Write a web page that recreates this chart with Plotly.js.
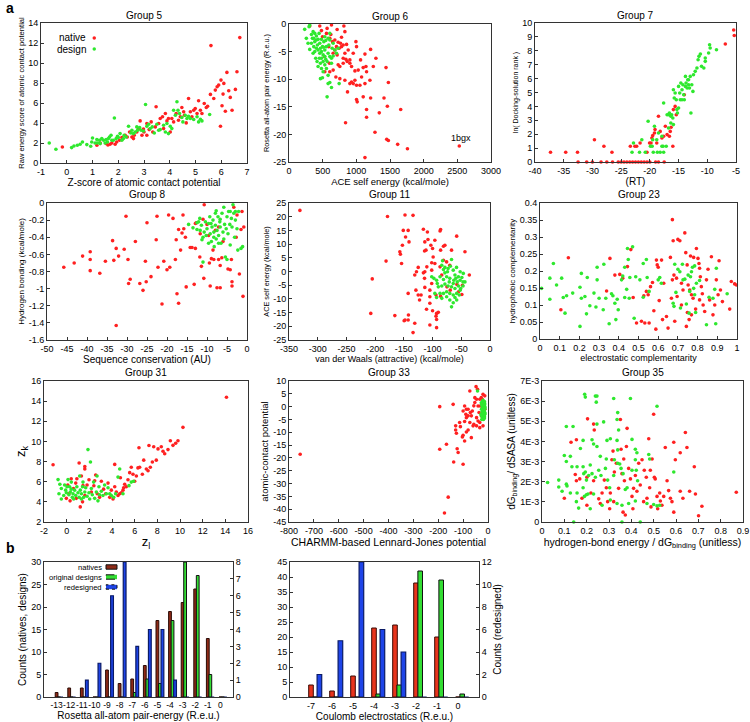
<!DOCTYPE html>
<html><head><meta charset="utf-8">
<script src="https://cdn.plot.ly/plotly-3.0.1.min.js"></script>
<style>body{margin:0;background:#fff}#chart{width:750px;height:722px}</style>
</head><body><div id="chart"></div>
<script>
// ---------------- DATA ----------------
const g5Native = [[-0.17,1.6],[1.17,1.77],[1.3,2.0],[1.53,1.94],[1.68,1.87],[1.88,1.87],[1.94,2.1],[2.05,2.27],[2.14,2.54],[2.27,2.78],[2.44,3.1],[2.53,2.6],[2.62,2.78],[2.72,3.1],[2.79,3.44],[2.85,4.21],[2.92,2.78],[3.0,3.1],[3.11,2.78],[3.2,3.34],[3.28,4.11],[3.34,3.1],[3.44,3.61],[3.47,5.62],[3.57,3.95],[3.63,4.45],[3.72,4.62],[3.76,3.44],[3.83,4.95],[3.89,4.21],[3.95,4.45],[4.02,3.1],[4.08,4.45],[4.15,4.11],[4.25,4.95],[4.34,4.28],[4.41,4.62],[4.47,5.55],[4.57,4.78],[4.64,4.01],[4.73,6.45],[4.8,5.12],[4.86,4.62],[4.93,5.28],[4.99,5.45],[5.06,4.95],[5.12,6.22],[5.19,5.28],[5.25,4.95],[5.34,5.95],[5.42,5.55],[5.47,5.68],[5.58,6.86],[5.6,11.74],[5.71,6.45],[5.84,7.63],[5.9,7.79],[5.97,3.68],[5.99,8.29],[6.03,5.72],[6.07,6.89],[6.16,5.18],[6.22,9.06],[6.29,7.22],[6.35,6.56],[6.42,5.28],[6.55,7.36],[6.61,9.13],[6.72,12.54],[6.1,7.96],[5.77,7.29],[4.54,5.12],[3.11,3.95],[2.59,2.44],[1.6,1.8],[1.75,2.0],[2.35,2.6],[2.98,3.4]];
const g5Design = [[-0.68,2.0],[-0.42,1.37],[0.19,1.54],[0.28,1.7],[0.41,1.77],[0.52,1.87],[0.61,2.1],[0.93,1.67],[0.97,2.1],[1.0,2.5],[1.1,2.0],[1.19,2.0],[1.27,2.27],[1.36,2.44],[1.43,2.27],[1.53,2.34],[1.58,2.1],[1.66,2.6],[1.72,2.78],[1.81,2.27],[1.85,4.5],[1.92,2.44],[1.97,2.67],[2.07,2.94],[2.14,2.27],[2.23,2.78],[2.31,2.6],[2.4,3.68],[2.49,3.0],[2.59,2.94],[2.66,3.1],[2.75,3.28],[2.83,3.55],[2.89,3.28],[2.98,3.2],[3.06,5.85],[3.11,3.68],[3.24,3.44],[3.32,3.61],[3.4,3.0],[3.5,3.88],[3.63,3.34],[3.76,3.78],[3.89,3.95],[3.95,2.94],[4.02,3.68],[4.08,3.44],[4.28,6.12],[4.32,5.28],[4.38,4.95],[4.47,4.55],[4.6,4.78],[4.67,4.45],[4.8,4.45],[4.93,4.35],[5.06,4.62],[5.19,4.38],[5.25,4.21],[5.55,4.85],[0.78,1.84],[1.17,2.34],[1.3,1.94],[1.49,2.0],[1.62,2.44],[1.75,2.27],[2.0,2.54],[2.2,2.44],[2.53,3.28],[2.72,3.61],[3.18,3.88],[3.57,3.28],[3.83,3.1],[4.15,5.28],[4.22,4.78],[4.51,4.11],[4.73,4.68],[5.12,4.11]];

const g6Native = [[308,-0.36],[457,-0.36],[631,-0.18],[815,-0.36],[830,-1.39],[482,-1.2],[556,-1.7],[621,-1.9],[497,-2.3],[606,-2.6],[681,-2.9],[730,-3.3],[765,-3.5],[780,-4.1],[805,-3.8],[855,-3.7],[745,-4.4],[705,-4.1],[681,-4.7],[656,-5.3],[715,-5.6],[805,-6.2],[845,-6.4],[864,-6.8],[904,-7.1],[805,-7.1],[755,-7.7],[656,-8.35],[606,-8.65],[532,-8.65],[696,-9.6],[755,-9.9],[830,-10.2],[869,-12.3],[904,-10.8],[929,-10.5],[954,-10.8],[979,-10.2],[1003,-11.1],[994,-3.2],[1003,-4.1],[954,-5.3],[929,-7.7],[979,-8.5],[1028,-8.35],[1063,-6.5],[1128,-5.45],[1143,-7.7],[1212,-4.6],[1152,-8.65],[1202,-10.2],[1291,-6.2],[1252,-7.7],[1102,-7.9],[1078,-9.6],[1003,-13.7],[1013,-14.1],[1102,-13.2],[1212,-13.4],[1152,-15.5],[1152,-16.9],[1341,-16.1],[1411,-13.4],[1441,-7.9],[1461,-14.9],[1476,-10.6],[1277,-19.6],[840,-17.9],[1451,-20.9],[1476,-21.1],[1614,-21.8],[1759,-22.6],[1659,-15.5],[1128,-24.2],[2529,-22.1],[566,-0.8],[715,-1.0],[780,-2.4],[879,-4.7],[904,-6.5],[830,-5.3],[646,-3.2],[591,-4.1],[527,-5.9],[601,-7.1],[730,-7.4],[1053,-11.1],[1128,-10.8]];
const g6Design = [[233,-0.97],[298,-0.48],[308,-0.18],[358,-1.39],[383,-1.7],[407,-2.18],[432,-2.78],[348,-2.6],[383,-3.2],[457,-3.5],[482,-2.78],[497,-4.1],[517,-3.2],[333,-3.5],[368,-4.1],[407,-4.4],[432,-4.7],[457,-5.3],[482,-5.0],[507,-5.6],[532,-4.7],[556,-4.1],[581,-5.3],[606,-5.9],[546,-6.4],[507,-6.8],[467,-7.1],[432,-7.7],[482,-8.05],[532,-7.4],[566,-6.8],[631,-6.2],[681,-4.7],[730,-4.4],[656,-3.5],[606,-2.9],[467,-9.9],[497,-9.75],[581,-9.3],[581,-10.8],[631,-11.5],[606,-10.6],[745,-10.8],[566,-13.2],[397,-6.2],[358,-5.3],[308,-4.6],[283,-3.5],[258,-2.6],[407,-2.9],[447,-1.7],[532,-2.3],[581,-2.6],[606,-1.7],[383,-5.0],[532,-5.9],[482,-6.2],[452,-6.2],[556,-8.05],[507,-8.65],[656,-5.8],[631,-7.1],[417,-6.8],[333,-1.9],[368,-2.6],[422,-3.8],[467,-4.4],[517,-4.2],[546,-3.0],[591,-3.8],[641,-4.4],[705,-5.3]];

const g7Native = [[-37.3,0.7],[-34.65,0.7],[-32.6,0.7],[-29.65,1.6],[-28.0,1.13],[-26.6,0.7],[-23.4,1.13],[-22.6,1.13],[-22.3,1.13],[-21.7,1.37],[-20.5,0.7],[-20.05,1.37],[-19.8,1.37],[-19.65,1.73],[-19.5,1.9],[-19.2,2.09],[-19.1,2.33],[-18.8,1.37],[-18.5,3.29],[-18.2,2.2],[-17.9,1.73],[-17.6,1.85],[-17.3,2.57],[-17.0,1.97],[-16.6,1.85],[-16.45,2.2],[-16.3,2.5],[-16.0,1.13],[-15.9,3.77],[-15.6,4.0],[-15.4,3.4],[-14.0,4.84],[-6.86,8.49],[-5.4,9.5],[-5.3,9.1],[-32.5,0],[-31,0],[-30,0],[-28.5,0],[-27.5,0],[-26.5,0],[-25.5,0],[-25,0],[-24.5,0],[-24,0],[-23.5,0],[-23,0],[-22.5,0],[-22,0],[-21.5,0],[-21,0],[-20.5,0],[-20,0],[-19,0],[-18.5,0],[-17.5,0]];
const g7Design = [[-23.1,0.7],[-22.85,1.37],[-21.8,0.7],[-21.4,1.6],[-20.8,0.7],[-19.9,1.13],[-19.5,1.6],[-19.2,2.57],[-18.8,1.6],[-18.7,0.7],[-18.5,2.09],[-18.2,0.7],[-17.9,1.13],[-17.7,1.13],[-17.6,4.24],[-17.15,1.13],[-17.0,3.4],[-16.75,3.4],[-16.6,3.53],[-16.35,2.81],[-16.2,3.4],[-16.0,3.17],[-15.9,5.2],[-15.75,4.6],[-15.6,4.96],[-15.4,4.48],[-15.3,3.77],[-15.2,3.53],[-15.0,5.44],[-14.8,4.96],[-14.7,4.48],[-14.6,5.68],[-14.4,5.2],[-14.25,5.56],[-14.1,4.84],[-14.0,4.48],[-13.8,5.44],[-13.7,5.68],[-13.5,5.32],[-13.4,5.92],[-13.25,5.56],[-13.1,5.32],[-12.97,6.16],[-12.85,3.53],[-12.7,5.56],[-12.5,5.08],[-12.4,6.28],[-12.1,6.52],[-11.8,6.76],[-11.6,7.36],[-11.45,7.6],[-11.2,7.77],[-11.0,6.88],[-10.6,6.76],[-9.77,7.84],[-9.6,8.44],[-9.5,8.2],[-10.35,7.48],[-8.4,8.08],[-10.35,7.24],[-14.4,4.48],[-15.0,3.89],[-16.35,3.29],[-13.8,6.16],[-13.25,5.92],[-15.9,2.69],[-16.75,2.45],[-17.9,1.85],[-19.6,1.13],[-20.3,2.93],[-19.4,0.7],[-17.6,0.7]];

const g8Native = [[-45.8,-0.75],[-43.2,-0.70],[-41.1,-0.62],[-39.2,-0.57],[-39.2,-0.66],[-39.2,-0.79],[-36.8,-0.82],[-35.4,-0.68],[-33.6,-0.44],[-33.3,-0.67],[-32.7,-0.53],[-32.7,-1.43],[-32.1,-0.62],[-30.7,-0.54],[-30.25,-0.155],[-29.75,-0.66],[-29.6,-0.94],[-29.2,-0.89],[-27.9,-0.45],[-26.8,-0.94],[-26.0,-1.02],[-25.4,-0.68],[-25.2,-0.92],[-25.0,-0.23],[-24.0,-0.86],[-22.7,-0.43],[-22.5,-0.155],[-22.25,-0.75],[-21.25,-1.18],[-20.8,-0.68],[-20.0,-0.78],[-19.6,-0.14],[-19.3,-0.75],[-18.5,-0.18],[-17.9,-0.66],[-17.7,-0.43],[-17.5,-1.06],[-17.1,-0.31],[-17.1,-1.17],[-16.6,-0.55],[-16.25,-0.35],[-16.0,-0.14],[-15.8,-0.30],[-15.4,-0.40],[-15.2,-0.98],[-14.2,-0.52],[-13.75,-0.52],[-13.2,-0.95],[-12.9,-0.53],[-12.7,-0.23],[-11.8,-0.63],[-11.4,-0.74],[-10.8,-0.88],[-10.7,-0.02],[-10.0,-0.25],[-9.6,-0.38],[-9.4,-0.70],[-9.2,-0.97],[-8.9,-0.65],[-8.5,-0.55],[-8.3,-0.66],[-7.5,-0.99],[-7.1,-0.66],[-6.7,-0.73],[-6.7,-0.99],[-6.3,-0.64],[-6.0,-0.45],[-4.75,-0.77],[-4.2,-0.78],[-3.9,-0.66],[-3.75,-0.92],[-3.75,-0.97],[-3.3,-0.05],[-2.5,-0.14],[-1.9,-0.83],[-1.25,-0.10],[-1.0,-1.09],[-0.8,-0.28],[-1.5,-0.31],[-2.7,-0.40],[-7.1,-0.28],[-7.9,-0.32],[-11.7,-0.36],[-12.9,-0.24],[-11.0,-0.19]];
const g8Design = [[-14.6,-0.25],[-13.5,-0.29],[-12.5,-0.31],[-11.8,-0.18],[-11.4,-0.26],[-11.25,-0.43],[-11.0,-0.40],[-11.0,-0.69],[-10.7,-0.34],[-10.4,-0.22],[-10.2,-0.38],[-10.0,-0.30],[-9.6,-0.24],[-9.6,-0.47],[-9.3,-0.16],[-9.2,-0.36],[-8.9,-0.45],[-8.75,-0.28],[-8.5,-0.20],[-8.3,-0.34],[-8.2,-0.51],[-7.9,-0.12],[-7.9,-0.26],[-7.7,-0.42],[-7.5,-0.32],[-7.25,-0.16],[-7.1,-0.38],[-6.8,-0.22],[-6.7,-0.28],[-6.5,-0.47],[-6.25,-0.12],[-6.0,-0.34],[-5.8,-0.05],[-5.8,-0.42],[-5.6,-0.25],[-5.4,-0.63],[-5.2,-0.30],[-5.0,-0.16],[-4.75,-0.36],[-4.6,-0.10],[-4.3,-0.25],[-4.2,-0.49],[-3.9,-0.18],[-3.75,-0.28],[-3.5,-0.02],[-3.3,-0.12],[-3.1,-0.40],[-2.9,-0.20],[-2.5,-0.30],[-2.3,-0.55],[-2.1,-0.10],[-1.5,-0.53],[-1.1,-0.51],[-5.0,-0.66],[-12.5,-0.23],[-11.7,-0.32],[-9.0,-0.24],[-7.7,-0.09],[-6.7,-0.19],[-4.2,-0.10],[-2.9,-0.10],[-12.1,-0.22],[-8.3,-0.40],[-7.1,-0.47]];

const g11Native = [[-331,22.3],[-178.5,20.1],[-148,20.6],[-134,20.5],[-142.5,15.0],[-151,15.0],[-147,12.6],[-141,10.8],[-152.5,9.6],[-157,7.2],[-156,6.3],[-154,2.9],[-181,3.8],[-205,-2.7],[-116,15.4],[-109,14.4],[-108,11.7],[-113.5,10.8],[-111.5,7.8],[-114,7.5],[-103,9.6],[-100,8.4],[-96,11.4],[-87,14.8],[-86,15.3],[-81,9.2],[-78.5,9.6],[-86,7.8],[-99,5.3],[-101.5,3.2],[-81,4.1],[-75.5,3.5],[-70,2.3],[-67,7.8],[-58,12.9],[-43.6,7.2],[-36,-1.3],[-48,-5.0],[-49,-8.4],[-54.8,-7.4],[-57.6,-4.7],[-69.3,-6.8],[-75,-5.6],[-84,-1.3],[-87,1.7],[-96,2.9],[-101.5,0.5],[-110,1.7],[-113.5,-0.1],[-116,-0.5],[-125,1.5],[-128,-0.1],[-131,-1.3],[-114,-2.5],[-113.5,-5.8],[-101.5,-4.4],[-94,-8.6],[-86,-9.0],[-104.7,-6.8],[-104.7,-9.2],[-120,-8.6],[-122.7,-10.4],[-125,-8.6],[-129,-6.8],[-142.5,-8.0],[-104.7,-11.6],[-110.5,-13.8],[-100,-14.3],[-93,-15.3],[-90,-14.9],[-94,-16.3],[-104.7,-19.5],[-93,-17.5],[-93,-20.5],[-131,-18.9],[-142.5,-17.7],[-148,-17.7],[-149.5,-18.0],[-165.7,-16.1],[-207.6,-15.3],[-134,-22.3],[-142,-15.9]];
const g11Design = [[-67,4.4],[-82.6,3.9],[-84,2.3],[-78.5,1.5],[-73,1.1],[-69,1.9],[-64,0.5],[-58.3,1.5],[-61,-1.3],[-55,-1.9],[-52,-3.2],[-49,-2.2],[-47,-3.8],[-57,-3.8],[-63,-3.2],[-70,-2.5],[-75.5,-1.9],[-81,-2.9],[-87,-1.9],[-93,-3.2],[-97.7,-2.5],[-101.5,-1.9],[-90,-5.6],[-84,-5.3],[-78.5,-4.6],[-73,-5.3],[-67,-5.6],[-61,-6.2],[-55,-5.3],[-52,-6.8],[-58,-8.0],[-64,-8.6],[-70,-8.0],[-75.5,-7.4],[-81,-8.0],[-87,-8.0],[-93,-9.5],[-84,-9.8],[-75.5,-9.2],[-70,-10.4],[-64,-11.4],[-67,-12.9],[-58,-10.4],[-51,-6.2],[-43.6,-3.8],[-46.5,-0.7],[-52,-0.1],[-74,-0.1],[-71,-3.8],[-64,-4.4],[-59.5,-2.5],[-78.5,-0.5],[-81,0.7],[-91.8,-4.4],[-96,-8.0],[-53.5,-8.6],[-61,-9.5],[-47,-5.3]];

const g23Native = [[0.144,0.239],[0.106,0.086],[0.355,0.237],[0.338,0.141],[0.38,0.188],[0.405,0.19],[0.42,0.179],[0.444,0.213],[0.461,0.263],[0.473,0.122],[0.49,0.047],[0.515,0.052],[0.527,0.127],[0.532,0.047],[0.54,0.14],[0.549,0.13],[0.554,0.047],[0.561,0.154],[0.571,0.166],[0.578,0.083],[0.588,0.029],[0.591,0.232],[0.595,0.218],[0.6,0.211],[0.605,0.113],[0.617,0.232],[0.622,0.057],[0.628,0.164],[0.642,0.066],[0.65,0.032],[0.662,0.24],[0.667,0.12],[0.672,0.351],[0.676,0.289],[0.68,0.188],[0.684,0.052],[0.693,0.179],[0.696,0.125],[0.7,0.293],[0.71,0.289],[0.718,0.164],[0.726,0.144],[0.735,0.312],[0.74,0.254],[0.743,0.037],[0.747,0.218],[0.752,0.159],[0.757,0.057],[0.76,0.144],[0.764,0.244],[0.769,0.13],[0.777,0.12],[0.78,0.24],[0.794,0.266],[0.802,0.237],[0.807,0.222],[0.81,0.208],[0.814,0.183],[0.819,0.154],[0.824,0.133],[0.828,0.1],[0.836,0.081],[0.845,0.174],[0.853,0.205],[0.861,0.115],[0.87,0.242],[0.878,0.071],[0.887,0.1],[0.895,0.174],[0.904,0.13],[0.909,0.23],[0.916,0.144],[0.926,0.11],[0.963,0.088],[0.971,0.169],[0.988,0.162],[0.997,0.159],[0.672,0.174],[0.718,0.1],[0.748,0.078],[0.769,0.071],[0.79,0.088],[0.81,0.115]];
const g23Design = [[0.008,0.149],[0.05,0.179],[0.05,0.117],[0.068,0.222],[0.084,0.159],[0.11,0.179],[0.118,0.122],[0.127,0.076],[0.135,0.127],[0.166,0.135],[0.203,0.037],[0.203,0.152],[0.21,0.12],[0.21,0.193],[0.228,0.125],[0.236,0.074],[0.24,0.181],[0.253,0.098],[0.274,0.135],[0.284,0.094],[0.29,0.174],[0.29,0.211],[0.3,0.12],[0.321,0.086],[0.324,0.22],[0.334,0.12],[0.351,0.045],[0.363,0.133],[0.37,0.127],[0.38,0.105],[0.385,0.057],[0.392,0.117],[0.397,0.086],[0.414,0.174],[0.42,0.185],[0.43,0.211],[0.43,0.122],[0.44,0.146],[0.444,0.266],[0.448,0.234],[0.453,0.12],[0.456,0.181],[0.47,0.271],[0.478,0.061],[0.486,0.183],[0.507,0.174],[0.524,0.222],[0.524,0.123],[0.54,0.234],[0.544,0.181],[0.554,0.14],[0.6,0.174],[0.608,0.181],[0.616,0.164],[0.676,0.105],[0.68,0.096],[0.684,0.22],[0.69,0.137],[0.7,0.205],[0.71,0.198],[0.713,0.091],[0.723,0.22],[0.726,0.174],[0.735,0.176],[0.743,0.103],[0.752,0.188],[0.76,0.14],[0.764,0.183],[0.769,0.198],[0.774,0.211],[0.78,0.149],[0.785,0.215],[0.785,0.13],[0.79,0.078],[0.794,0.164],[0.858,0.123],[0.878,0.12],[0.887,0.146],[0.892,0.045],[0.895,0.208],[0.95,0.133],[0.845,0.042],[0.757,0.076],[0.81,0.172]];

const g31Native = [[-1.2,7.68],[1.1,7.86],[1.6,7.5],[1.6,7.26],[1.3,6.56],[0.9,6.3],[0.4,6.3],[0.1,5.68],[0.6,5.33],[0.2,4.8],[-0.03,4.35],[0.3,4.1],[0.85,4.35],[1.2,3.5],[1.4,4.0],[1.6,4.63],[1.8,5.68],[1.97,6.2],[2.18,4.98],[2.4,5.6],[2.56,6.67],[2.7,4.8],[2.9,4.45],[3.06,6.04],[3.26,5.26],[3.44,4.8],[3.65,5.86],[3.8,4.45],[3.94,5.16],[4.09,4.28],[4.24,7.72],[4.24,5.5],[4.38,4.98],[4.53,4.63],[4.68,4.8],[4.82,4.9],[4.97,5.16],[5.12,5.75],[5.26,5.5],[5.41,6.2],[5.56,6.9],[5.7,7.44],[5.85,6.74],[6.0,6.04],[6.15,6.56],[6.29,7.37],[6.38,9.37],[6.44,7.44],[6.68,6.74],[6.8,8.14],[7.03,7.26],[7.18,7.09],[7.26,9.6],[7.38,7.44],[7.56,7.96],[7.68,9.47],[7.91,8.14],[8.06,9.26],[8.35,9.47],[8.5,9.02],[8.65,8.77],[8.94,9.19],[9.15,10.07],[9.38,9.61],[9.62,9.82],[9.82,10.07],[10.26,11.4],[14.1,14.39],[1.44,5.61],[2.47,6.1],[4.74,6.39],[5.03,5.4],[0.8,5.86]];
const g31Design = [[-0.76,6.21],[-0.6,5.75],[-0.47,5.33],[-0.68,4.8],[-0.47,4.28],[-0.26,4.63],[-0.09,5.16],[0.03,5.5],[0.12,6.21],[0.2,4.7],[0.32,4.98],[0.41,5.26],[0.5,4.45],[0.56,4.8],[0.7,5.16],[0.8,4.63],[0.9,5.5],[1.0,4.9],[1.1,4.45],[1.15,6.56],[1.2,5.16],[1.3,4.8],[1.4,5.5],[1.5,4.45],[1.6,4.98],[1.68,5.4],[1.8,4.56],[1.88,9.19],[1.97,4.9],[2.03,4.28],[2.1,7.96],[2.18,5.33],[2.26,4.7],[2.38,5.96],[2.47,4.35],[2.62,4.98],[2.68,6.56],[2.76,4.1],[2.85,5.5],[2.9,4.7],[3.06,5.05],[3.2,4.63],[3.35,5.68],[3.5,4.8],[3.65,5.4],[3.8,4.8],[3.94,4.63],[4.15,4.45],[4.32,4.8],[4.53,6.46],[4.68,7.26],[4.97,4.8],[5.5,5.61],[5.7,5.96],[5.9,6.04],[-0.03,4.9],[0.26,5.5],[-0.18,5.68],[0.41,5.96],[1.44,5.96],[1.3,4.28],[0.62,4.28]];

const g33Native = [[-755,-18.6],[-194,0.0],[-140,0.9],[-194,-16.6],[-167,-14.7],[-138,-21.6],[-100,-22.5],[-130,-7.5],[-111,-7.8],[-94,-5.8],[-87,-4.3],[-80,-3.6],[-124,-16.4],[-120,-17.9],[-103,-11.8],[-100,-11.2],[-87,-9.9],[-80,-9.1],[-94,-13.4],[-73,-6.2],[-67,-3.6],[-63,-1.7],[-57,0.3],[-53,1.6],[-73,6.1],[-48,7.8],[-42,6.75],[-46,-4.3],[-40,-5.6],[-36,-2.3],[-33,-6.2],[-27,-3.6],[-31,0.26],[-23,2.86],[-20,4.8],[-13,4.2],[-17,1.56],[-13,-1.0],[-57,-6.9],[-71,-2.3],[-87,-1.0],[-100,-1.7],[-89,-3.0],[-130,-9.1],[-160,-35.3],[-175,-41.5],[-94,0.26],[-80,-1.0],[-40,0.26],[-33,2.86],[-27,3.5],[-46,2.86],[-53,3.5],[-60,-7.5],[-46,-7.5],[-33,-8.2],[-20,-7.5],[-67,-12.1],[-114,-6.2],[-127,-10.4]];
const g33Design = [[-42,6.1],[-28,-3],[-26,-1],[-25,1],[-24,-2],[-23,0],[-22,-4],[-22,2],[-21,-1],[-20,-3],[-20,1],[-19,0],[-19,-4.5],[-18,2],[-18,-2],[-17,-1],[-17,1.5],[-16,-3.5],[-16,0.5],[-15,-2],[-15,2],[-14,-1],[-14,-4],[-13,0],[-13,1],[-12,-2.5],[-12,-0.5],[-21,-2.5],[-24,0.5],[-26,-3.5],[-23,-4],[-27,1.5],[-20,2.5],[-18,-5],[-15,-4.5],[-14,1.8],[-25,-5],[-22,-1.2],[-19,-1.8],[-16,-1.2],[-13,-3]];

// Group 35 values of dG_binding/dSASA are in units of 1E-3
const g35Native = [[0.1,1.18],[0.13,3.96],[0.154,4.08],[0.204,5.12],[0.231,4.86],[0.234,4.57],[0.149,2.36],[0.154,2.05],[0.169,2.14],[0.201,2.22],[0.219,1.44],[0.231,2.05],[0.254,1.15],[0.261,0.92],[0.269,1.44],[0.279,2.08],[0.288,1.7],[0.294,1.01],[0.303,0.66],[0.313,3.09],[0.318,3.52],[0.324,2.48],[0.333,2.92],[0.343,1.67],[0.351,5.09],[0.354,3.61],[0.358,2.4],[0.363,0.49],[0.366,3.13],[0.369,2.05],[0.373,0.35],[0.378,3.75],[0.381,4.65],[0.388,2.66],[0.396,2.14],[0.403,1.27],[0.407,0.66],[0.41,1.67],[0.418,2.31],[0.425,1.53],[0.433,2.92],[0.44,1.84],[0.448,3.09],[0.455,1.01],[0.458,2.57],[0.467,2.22],[0.47,1.18],[0.478,4.13],[0.482,1.7],[0.485,2.57],[0.488,0.75],[0.493,3.13],[0.5,5.35],[0.503,2.22],[0.507,2.14],[0.515,1.27],[0.518,0.66],[0.527,1.44],[0.53,1.04],[0.537,0.83],[0.545,1.27],[0.552,3.7],[0.56,2.05],[0.567,1.56],[0.575,1.18],[0.582,1.01],[0.59,0.49],[0.597,3.09],[0.59,3.96],[0.619,3.44],[0.642,4.44],[0.649,3.7],[0.661,1.53],[0.682,2.74],[0.619,1.53],[0.631,1.18],[0.687,1.39],[0.701,0.31],[0.716,0.78],[0.87,1.48],[0.321,1.01],[0.306,1.44],[0.201,0.83],[0.179,1.18]];
const g35Design = [[0.191,6.34],[0.194,6.2],[0.239,6.25],[0.246,6.25],[0.243,5.95],[0.321,6.13],[0.396,6.13],[0.339,5.43],[0.336,5.09],[0.515,5.75],[0.109,4.74],[0.139,4.74],[0.246,4.86],[0.276,4.97],[0.343,4.57],[0.184,4.05],[0.224,4.08],[0.231,3.87],[0.291,4.05],[0.306,4.13],[0.336,4.05],[0.339,3.58],[0.403,4.1],[0.418,3.61],[0.425,3.44],[0.172,3.65],[0.246,3.75],[0.261,3.26],[0.127,3.26],[0.1,3.3],[0.109,3.0],[0.134,2.74],[0.157,2.74],[0.184,2.74],[0.187,2.4],[0.194,2.48],[0.209,2.31],[0.216,2.83],[0.199,2.08],[0.224,2.4],[0.239,2.22],[0.254,2.57],[0.264,2.31],[0.284,2.66],[0.288,3.13],[0.294,2.08],[0.303,1.7],[0.321,2.31],[0.324,3.09],[0.339,2.92],[0.348,2.88],[0.354,2.66],[0.363,2.4],[0.373,1.61],[0.381,1.7],[0.403,2.57],[0.418,3.09],[0.422,2.57],[0.428,2.05],[0.478,3.35],[0.482,3.13],[0.59,2.48],[0.075,2.08],[0.025,1.96],[0.075,1.74],[0.109,1.88],[0.112,1.79],[0.09,1.53],[0.127,1.44],[0.157,1.44],[0.184,1.7],[0.19,1.27],[0.199,1.35],[0.206,1.39],[0.231,1.39],[0.154,1.01],[0.164,0.69],[0.216,0.66],[0.269,0.83],[0.306,1.09],[0.336,0.92],[0.358,0.83],[0.388,0.92],[0.418,1.04],[0.47,0.92],[0.515,0.8],[0.527,0.83],[0.5,0.87],[0.142,0.0],[0.358,0.0],[0.44,0.0]];

// Histograms
const pairCats = [-13,-12,-11,-10,-9,-8,-7,-6,-5,-4,-3,-2,-1,0];
const pairNatives = [1,2,2,0,6,3,4,7,17,19,21,24,13,0];
const pairOrigDesigns = [0,0,0,0,0,0,1,4,3,17,30,27,5,0];
const pairRedesigned = [0,0,1,2,6,8,3,4,4,1,0,0,0,0];
const coulCats = [-7,-6,-5,-4,-3,-2,-1,0];
const coulNatives = [4,2,7,23,24,38,20,0];
const coulOrigDesigns = [0,0,0,1,4,42,39,1];
const coulRedesigned = [2,5,12,6,4,0,0,0];

// Tick values
const g5XT=[-1,0,1,2,3,4,5,6,7], g5YT=[0,2,4,6,8,10,12,14];
const g6XT=[0,500,1000,1500,2000,2500,3000], g6YT=[-25,-20,-15,-10,-5,0];
const g7XT=[-40,-35,-30,-25,-20,-15,-10,-5], g7YT=[0,1,2,3,4,5,6,7,8,9,10];
const g8XT=[-50,-45,-40,-35,-30,-25,-20,-15,-10,-5,0], g8YT=[-1.6,-1.4,-1.2,-1,-0.8,-0.6,-0.4,-0.2,0];
const g11XT=[-350,-300,-250,-200,-150,-100,-50,0], g11YT=[-25,-20,-15,-10,-5,0,5,10,15,20,25];
const g23XT=[0,0.1,0.2,0.3,0.4,0.5,0.6,0.7,0.8,0.9,1], g23YT=[0,0.05,0.1,0.15,0.2,0.25,0.3,0.35,0.4];
const g31XT=[-2,0,2,4,6,8,10,12,14,16], g31YT=[2,4,6,8,10,12,14,16];
const g33XT=[-800,-700,-600,-500,-400,-300,-200,-100,0], g33YT=[-45,-40,-35,-30,-25,-20,-15,-10,-5,0,5,10];
const g35XT=[0,0.1,0.2,0.3,0.4,0.5,0.6,0.7,0.8,0.9], g35YT=[0,1,2,3,4,5,6,7];
const g35YLabels=['0','1E-3','2E-3','3E-3','4E-3','5E-3','6E-3','7E-3'];

// ---------------- LAYOUT ----------------
const W=750, H=722;
const FONT='Liberation Sans, Arial, Helvetica, sans-serif';
const RED='#ff2020', GREEN='#2ee82e';
const fx=(a,b)=>[a/W,b/W];
const fy=(t,b)=>[1-b/H,1-t/H];
const px=v=>v/W, py=v=>1-v/H;

function mkAxis(domain, range, tv, tt, title, tsize, anchor, extra){
  const a={domain:domain, range:range, tickmode:'array', tickvals:tv, ticktext:tt||tv.map(String), tickangle:0,
    ticks:'inside', ticklen:3, tickcolor:'#333', showline:true, linecolor:'#333', linewidth:1, mirror:true,
    showgrid:false, zeroline:false, tickfont:{size:9,color:'#000',family:FONT}, anchor:anchor, automargin:false};
  if(title){ a.title={text:title, font:{size:tsize||9,color:'#000',family:FONT}, standoff:2}; }
  return Object.assign(a, extra||{});
}

const panels=[
 {t:'Group 5',x:[41,247],y:[23,163],xr:[-1,7],yr:[0,14],xt:g5XT,yt:g5YT,xl:'Z-score of atomic contact potential',xs:10,yl:'Raw energy score of atomic contact potential',ys:7.6,n:g5Native,d:g5Design},
 {t:'Group 6',x:[289,491],y:[24,162],xr:[0,3000],yr:[-25,0],xt:g6XT,yt:g6YT,xl:'ACE self energy (kcal/mole)',xs:9.5,yl:'Rosetta all-atom pair energy (R.e.u.)',ys:7.3,n:g6Native,d:g6Design},
 {t:'Group 7',x:[535,736],y:[23,162],xr:[-40,-5],yr:[0,10],xt:g7XT,yt:g7YT,xl:'(RT)',xs:10,yl:'ln( Docking-solution rank )',ys:7,n:g7Native,d:g7Design},
 {t:'Group 8',x:[47,247],y:[203,340],xr:[-50,0],yr:[-1.6,0],xt:g8XT,yt:g8YT,xl:'Sequence conservation (AU)',xs:10,yl:'Hydrogen bonding (kcal/mole)',ys:8,n:g8Native,d:g8Design},
 {t:'Group 11',x:[289,490],y:[203,340],xr:[-350,0],yr:[-25,25],xt:g11XT,yt:g11YT,xl:'van der Waals (attractive) (kcal/mole)',xs:9,yl:'ACE self energy (kcal/mole)',ys:7.3,n:g11Native,d:g11Design},
 {t:'Group 23',x:[540,737],y:[203,339],xr:[0,1],yr:[0,0.4],xt:g23XT,yt:g23YT,xl:'electrostatic complementarity',xs:9,yl:'hydrophobic complementarity',ys:8,n:g23Native,d:g23Design},
 {t:'Group 31',x:[44,248],y:[381,522],xr:[-2,16],yr:[2,16],xt:g31XT,yt:g31YT,xl:'z<sub>l</sub>',xs:13,yl:'z<sub>k</sub>',ys:13,n:g31Native,d:g31Design},
 {t:'Group 33',x:[289,488],y:[381,522],xr:[-800,0],yr:[-45,10],xt:g33XT,yt:g33YT,xl:'CHARMM-based Lennard-Jones potential',xs:10.5,yl:'atomic-contact potential',ys:9.5,n:g33Native,d:g33Design},
 {t:'Group 35',x:[542,743],y:[381,522],xr:[0,0.9],yr:[0,7],xt:g35XT,yt:g35YT,ytt:g35YLabels,xl:'hydrogen-bond energy / dG<sub>binding</sub> (unitless)',xs:10.5,yl:'dG<sub>binding</sub>/ dSASA (unitless)',ys:10,n:g35Native,d:g35Design}
];

const traces=[], layout={width:W,height:H,margin:{l:0,r:0,t:0,b:0},paper_bgcolor:'#fff',plot_bgcolor:'#fff',
  showlegend:false, font:{family:FONT,color:'#000'}, barmode:'overlay', annotations:[], shapes:[]};

panels.forEach((p,i)=>{
  const s = i===0 ? '' : String(i+1);
  layout['xaxis'+s]=mkAxis(fx(p.x[0],p.x[1]),p.xr,p.xt,null,p.xl,p.xs,'y'+s);
  layout['yaxis'+s]=mkAxis(fy(p.y[0],p.y[1]),p.yr,p.yt,p.ytt||null,p.yl,p.ys,'x'+s);
  [[p.n,RED],[p.d,GREEN]].forEach(([arr,c])=>{
    traces.push({type:'scatter',mode:'markers',x:arr.map(q=>q[0]),y:arr.map(q=>q[1]),xaxis:'x'+s,yaxis:'y'+s,
      cliponaxis:false,marker:{color:c,size:3.6,line:{width:0}},hoverinfo:'skip'});
  });
  layout.annotations.push({text:p.t,xref:'paper',yref:'paper',x:px((p.x[0]+p.x[1])/2),y:py(p.y[0]-8),
    xanchor:'center',yanchor:'middle',showarrow:false,font:{size:10,color:'#000',family:FONT}});
});

// label in Group 6
layout.annotations.push({text:'1bgx',xref:'x2',yref:'y2',x:2560,y:-20.6,showarrow:false,font:{size:9,color:'#000'}});

// Bar panels
layout.xaxis10=mkAxis(fx(44,233),[-14,1],pairCats,null,'Rosetta all-atom pair-energy (R.e.u.)',10,'y10',{ticks:'',tickfont:{size:8.5,color:'#000',family:FONT}});
layout.yaxis10=mkAxis(fy(562,697),[0,30],[0,5,10,15,20,25,30],null,'Counts (natives, designs)',10,'x10',{mirror:false});
layout.yaxis12=mkAxis(fy(562,697),[0,8],[0,1,2,3,4,5,6,7,8],null,null,9,'x10',{overlaying:'y10',side:'right',mirror:false});
layout.xaxis11=mkAxis(fx(290,479),[-8,1],coulCats,null,'Coulomb electrostatics (R.e.u.)',10,'y11',{ticks:''});
layout.yaxis11=mkAxis(fy(562,697),[0,45],[0,5,10,15,20,25,30,35,40,45],null,null,9,'x11',{mirror:false});
layout.yaxis13=mkAxis(fy(562,697),[0,12],[0,2,4,6,8,10,12],null,'Counts (redesigned)',10,'x11',{overlaying:'y11',side:'right',mirror:false});

const BW=0.22;
function bar(x,y,xa,ya,color,lineColor,off,lw){
  return {type:'bar',x:x,y:y,xaxis:xa,yaxis:ya,width:BW,offset:off,
    marker:{color:color,line:{color:lineColor,width:lw}},hoverinfo:'skip'};
}
traces.push(bar(pairCats,pairNatives,'x10','y10','#8e2a17','#2a0a05',-0.11,1));
traces.push(bar(pairCats,pairOrigDesigns,'x10','y10','#33dd33','#111',0.09,1));
traces.push(bar(pairCats,pairRedesigned,'x10','y12','#1e44e8','#0a1a66',0.29,1.2));
traces.push(bar(coulCats,coulNatives,'x11','y11','#e8341c','#3a0a05',-0.11,1));
traces.push(bar(coulCats,coulOrigDesigns,'x11','y11','#33dd33','#111',0.09,1));
traces.push(bar(coulCats,coulRedesigned,'x11','y13','#1e44e8','#0a1a66',0.29,1.2));

// Legends (text + swatch) for scatter panel Group 5
[['native',RED,38],['design',GREEN,49]].forEach(([t,c,yy])=>{
  layout.annotations.push({text:t,xref:'paper',yref:'paper',x:px(88),y:py(yy),xanchor:'right',yanchor:'middle',showarrow:false,font:{size:10,color:'#000'}});
  layout.shapes.push({type:'circle',xref:'paper',yref:'paper',x0:px(92.5),x1:px(96),y0:py(yy+1.7),y1:py(yy-1.7),fillcolor:c,line:{width:0}});
});
// Legend for histogram panel
[['natives','#8e2a17','solid',567],['original designs','#33dd33','dash',577],['redesigned','#1e44e8','dot',587]].forEach(([t,c,d,yy])=>{
  layout.annotations.push({text:t,xref:'paper',yref:'paper',x:px(104),y:py(yy),xanchor:'right',yanchor:'middle',showarrow:false,font:{size:7.6,color:'#000'}});
  layout.shapes.push({type:'rect',xref:'paper',yref:'paper',x0:px(106),x1:px(117),y0:py(yy+2.2),y1:py(yy-2.2),fillcolor:c,line:{color:'#111',width:1,dash:d}});
});
// panel letters
layout.annotations.push({text:'<b>a</b>',xref:'paper',yref:'paper',x:px(4),y:py(8),xanchor:'left',yanchor:'middle',showarrow:false,font:{size:14,color:'#000'}});
layout.annotations.push({text:'<b>b</b>',xref:'paper',yref:'paper',x:px(4),y:py(548),xanchor:'left',yanchor:'middle',showarrow:false,font:{size:14,color:'#000'}});

Plotly.newPlot('chart',traces,layout,{staticPlot:true,displayModeBar:false});
</script></body></html>
